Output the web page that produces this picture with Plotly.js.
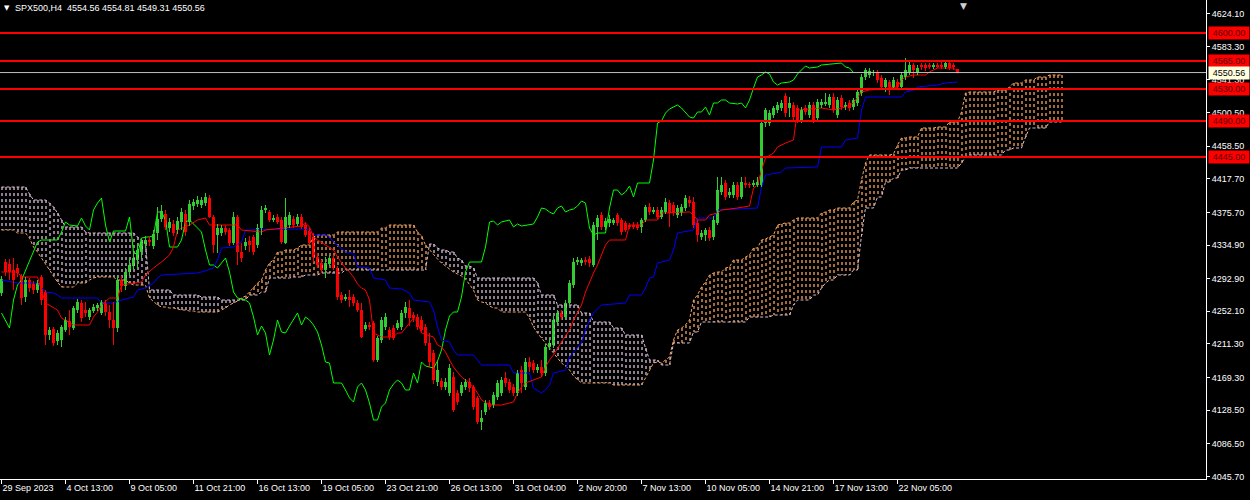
<!DOCTYPE html>
<html><head><meta charset="utf-8">
<script src="https://cdn.plot.ly/plotly-3.0.1.min.js"></script>
<style>html,body{margin:0;padding:0;background:#000;}#chart{width:1250px;height:500px;}</style>
</head><body><div id="chart"></div>
<script>
// ---- SPX500, H4 candles (bar index 0 = 29 Sep 2023) ----
const open = [4275,4313.75,4311.25,4303.75,4306.25,4296.25,4270,4291.25,4286.25,4278.75,
4295,4276.25,4222.5,4230,4215,4216.25,4228.75,4240,4231.25,4253.75,
4262.5,4253.75,4245,4252.5,4256.25,4250,4262.5,4251.25,4241.25,4231.25,
4291.25,4283.75,4301.25,4308.75,4316.25,4326.25,4336.25,4341.25,4333.75,4350,
4367.5,4373.75,4356.25,4361.25,4353.75,4363.75,4373.75,4363.75,4383.75,4386.25,
4385,4387.5,4393.75,4370,4347.5,4350,4356.25,4353.75,4337.5,4370,
4326.25,4333.75,4340,4345,4335,4356.25,4378.75,4376.25,4366.25,4370,
4366.25,4337.5,4360,4367.5,4361.25,4370,4360,4352.5,4345,4320,
4312.5,4303.75,4311.25,4318.75,4306.25,4272.5,4267.5,4270,4270,4262.5,
4253.75,4230,4235,4237.5,4191.25,4216.25,4232.5,4228.75,4231.25,4231.25,
4232.5,4250,4256.25,4247.5,4245,4241.25,4232.5,4212.5,4200,4163.75,
4165,4157.5,4150,4170,4150,4150,4157.5,4163.75,4157.5,4143.75,
4113.75,4126.25,4137.5,4135,4145,4150,4168.75,4163.75,4157.5,4150,
4178.75,4157.5,4188.75,4187.5,4178.75,4182.5,4175,4207.5,4210,4238.75,
4250,4245,4262.5,4285,4313.75,4312.5,4316.25,4317.5,4310,4357.5,
4372.5,4357.5,4362.5,4362.5,4372.5,4366.25,4362.5,4360,4360,4360,
4357.5,4366.25,4382.5,4376.25,4378.75,4370,4376.25,4387.5,4385,4372.5,
4375,4381.25,4391.25,4388.75,4362.5,4345,4347.5,4353.75,4345,4362.5,
4401.25,4412.5,4397.5,4397.5,4410,4395,4412.5,4411.25,4410,4410,
4410,4487.5,4487.5,4497.5,4503.75,4506.25,4521.25,4506.25,4510,4506.25,
4491.25,4506.25,4497.5,4510,4493.75,4510,4511.25,4510,4520,4497.5,
4518.75,4507.5,4512.5,4507.5,4512.5,4525,4545,4547.5,4549.4,4550,
4543.75,4532.5,4538.75,4532.5,4538.75,4532.5,4545,4551.25,4560,4551.25,
4560,4560,4560,4557.5,4560,4560,4557.5,4562.5,4560,4554.56];

const high = [4296.25,4317.5,4317.5,4318.75,4311.25,4298.75,4295,4293.75,4290,4291.25,
4297.5,4278.75,4232.5,4232.5,4228.75,4235,4245,4253.75,4258.75,4267.5,
4266.25,4263.75,4256.25,4261.25,4262.5,4266.25,4266.25,4260,4263.75,4296.25,
4296.25,4306.25,4318.75,4326.25,4336.25,4343.75,4346.25,4346.25,4353.75,4382.5,
4385,4378.75,4368.75,4366.25,4370,4381.25,4378.75,4391.25,4392.5,4396.25,
4395,4400,4397.5,4372.5,4361.25,4360,4360,4356.25,4376.25,4372.5,
4337.5,4343.75,4346.25,4347.5,4361.25,4383.75,4385,4378.75,4372.5,4373.75,
4370,4393.75,4376.25,4371.25,4373.75,4373.75,4363.75,4356.25,4350,4325,
4316.25,4320,4322.5,4322.5,4308.75,4276.25,4273.75,4278.75,4273.75,4266.25,
4262.5,4238.75,4238.75,4240,4221.25,4245,4250,4232.5,4235,4241.25,
4253.75,4263.75,4266.25,4251.25,4248.75,4246.25,4236.25,4225,4203.75,4191.25,
4168.75,4168.75,4186.25,4176.25,4153.75,4163.75,4167.5,4168.75,4160,4146.25,
4128.75,4141.25,4141.25,4151.25,4166.25,4170,4176.25,4167.5,4161.25,4178.75,
4183.75,4193.75,4195,4191.25,4186.25,4191.25,4211.25,4218.75,4246.25,4253.75,
4253.75,4266.25,4291.25,4318.75,4320,4318.75,4320,4321.25,4363.75,4372.5,
4376.25,4368.75,4372.5,4368.75,4375,4368.75,4365,4362.5,4363.75,4363.75,
4368.75,4385,4387.5,4382.5,4382.5,4382.5,4393.75,4391.25,4388.75,4385,
4386.25,4397.5,4396.25,4395,4366.25,4353.75,4356.25,4357.5,4371.25,4420,
4420,4416.25,4406.25,4413.75,4413.75,4420,4420,4413.75,4416.25,4420,
4491.25,4506.25,4503.75,4508.75,4513.75,4516.25,4525,4520,4513.75,4510,
4507.5,4510,4513.75,4513.75,4517.5,4517.5,4525,4523.75,4525,4520,
4522.5,4513.75,4516.25,4518.75,4530,4548.75,4556.25,4556.25,4553.75,4553.75,
4547.5,4543.75,4541.25,4545,4542.5,4551.25,4568.75,4563.75,4562.5,4560,
4562.5,4562.5,4562.5,4562.5,4562.5,4563.75,4565,4563.75,4562.5,4554.81];

const low = [4271.25,4296.25,4291.25,4278.75,4295,4260,4263.75,4276.25,4273.75,4275,
4260,4210,4216.25,4208.75,4210,4207.5,4226.25,4222.5,4228.75,4250,
4238.75,4245,4241.25,4250,4252.5,4247.5,4246.25,4231.25,4210,4226.25,
4276.25,4278.75,4296.25,4303.75,4306.25,4318.75,4331.25,4333.75,4330,4341.25,
4363.75,4353.75,4351.25,4346.25,4348.75,4353.75,4346.25,4358.75,4378.75,4382.5,
4381.25,4383.75,4368.75,4325,4325,4346.25,4347.5,4333.75,4335,4310,
4313.75,4328.75,4326.25,4322.5,4331.25,4347.5,4375,4363.75,4363.75,4361.25,
4336.25,4336.25,4356.25,4356.25,4358.75,4355,4345,4335,4313.75,4306.25,
4300,4293.75,4308.75,4303.75,4266.25,4262.5,4265,4257.5,4258.75,4251.25,
4218.75,4227.5,4228.75,4188.75,4188.75,4212.5,4228.75,4216.25,4216.25,4228.75,
4228.75,4243.75,4233.75,4238.75,4228.75,4225,4208.75,4181.25,4161.25,4158.75,
4153.75,4153.75,4146.25,4126.25,4135,4146.25,4153.75,4151.25,4128.75,4111.25,
4103.75,4122.5,4128.75,4131.25,4141.25,4146.25,4157.5,4150,4146.25,4146.25,
4150,4153.75,4176.25,4175,4175,4170,4171.25,4203.75,4206.25,4235,
4241.25,4241.25,4258.75,4281.25,4310,4308.75,4310,4307.5,4307.5,4341.25,
4353.75,4353.75,4357.5,4360,4358.75,4347.5,4351.25,4355,4355,4353.75,
4350,4363.75,4372.5,4373.75,4367.5,4367.5,4373.75,4357.5,4371.25,4368.75,
4371.25,4377.5,4382.5,4356.25,4338.75,4341.25,4340,4340,4341.25,4360,
4397.5,4391.25,4393.75,4393.75,4391.25,4392.5,4406.25,4406.25,4407.5,4407.5,
4407.5,4482.5,4483.75,4493.75,4500,4502.5,4495,4495,4491.25,4487.5,
4487.5,4497.5,4493.75,4487.5,4490,4506.25,4508.75,4506.25,4500,4493.75,
4503.75,4503.75,4502.5,4503.75,4508.75,4521.25,4541.25,4543.75,4546.25,4537.5,
4528.75,4526.25,4522.5,4528.75,4528.75,4528.75,4541.25,4547.5,4543.75,4547.5,
4553.75,4552.5,4555,4555,4556.25,4555,4555,4553.75,4553.75,4549.31];

const close = [4292.5,4301.25,4301.25,4291.25,4300,4268.75,4291.25,4281.25,4278.75,4287.5,
4266.25,4222.5,4228.75,4212.5,4225,4232.5,4241.25,4232.5,4256.25,4263.75,
4243.75,4250,4253.75,4257.5,4260,4263.75,4251.25,4241.25,4231.25,4291.25,
4283.75,4301.25,4310,4318.75,4328.75,4338.75,4341.25,4338.75,4348.75,4367.5,
4377.5,4357.5,4363.75,4350,4365,4376.25,4351.25,4386.25,4388.75,4391.25,
4391.25,4395,4370,4335,4356.25,4356.25,4351.25,4337.5,4370,4326.25,
4318.75,4338.75,4335,4326.25,4356.25,4378.75,4381.25,4366.25,4368.75,4363.75,
4338.75,4370,4372.5,4360,4370,4357.5,4347.5,4337.5,4320,4310,
4303.75,4312.5,4318.75,4306.25,4270,4266.25,4270,4266.25,4262.5,4253.75,
4220,4235,4232.5,4191.25,4218.75,4241.25,4245,4220,4218.75,4237.5,
4250,4257.5,4243.75,4243.75,4232.5,4228.75,4212.5,4188.75,4166.25,4178.75,
4157.5,4163.75,4181.25,4128.75,4138.75,4160,4163.75,4156.25,4132.5,4113.75,
4118.75,4137.5,4132.5,4147.5,4162.5,4166.25,4162.5,4153.75,4150,4175,
4162.5,4188.75,4182.5,4178.75,4182.5,4175,4207.5,4212.5,4241.25,4250,
4245,4262.5,4287.5,4313.75,4316.25,4316.25,4313.75,4312.5,4360,4368.75,
4357.5,4365,4367.5,4366.25,4362.5,4351.25,4353.75,4357.5,4357.5,4356.25,
4366.25,4382.5,4376.25,4378.75,4370,4378.75,4388.75,4375,4375,4381.25,
4382.5,4393.75,4387.5,4360,4347.5,4350,4353.75,4343.75,4366.25,4403.75,
4410,4395,4401.25,4410,4395,4413.75,4409.4,4409.4,4412.5,4413.75,
4487.5,4503.75,4500,4506.25,4510,4512.5,4500,4512.5,4495,4491.25,
4503.75,4501.25,4510,4491.25,4513.75,4513.75,4513.75,4520,4503.75,4516.25,
4507.5,4510,4506.25,4516.25,4526.25,4545,4553.75,4552.5,4551.25,4541.25,
4532.5,4541.25,4532.5,4541.25,4532.5,4547.5,4553.75,4560,4553.75,4556.25,
4556.9,4556.25,4558.1,4560,4558.1,4558.1,4562.5,4556.25,4557.5,4550.56];

// ---- Ichimoku cloud: Senkou Span A / B per bar (drawn 26 bars ahead) ----
const senkouA = [4353.75,4353.75,4353.75,4353.75,4350,4350,4350,4343.75,4332.5,4326.25,
4318.75,4311.25,4303.75,4295,4288.75,4282.5,4282.5,4282.5,4282.5,4287.5,
4287.5,4287.5,4291.25,4293.75,4295,4295,4295,4295,4295,4291.25,
4291.25,4291.25,4287.5,4285,4285,4285,4285,4268.75,4263.75,4260,
4257.5,4257.5,4256.25,4256.25,4255,4253.75,4253.75,4252.5,4252.5,4251.25,
4251.25,4251.25,4251.25,4251.25,4251.25,4253.75,4256.25,4260,4262.5,4265,
4268.75,4271.25,4276.25,4282.5,4287.5,4291.25,4303.75,4312.5,4316.25,4326.25,
4326.25,4328.75,4328.75,4328.75,4331.25,4335,4335,4335,4345,4347.5,
4347.5,4347.5,4347.5,4347.5,4351.25,4351.25,4351.25,4351.25,4351.25,4351.25,
4351.25,4351.25,4351.25,4351.25,4351.25,4356.25,4356.25,4360,4360,4360,
4360,4360,4360,4360,4351.25,4346.25,4335,4328.75,4322.5,4317.5,
4312.5,4308.75,4305,4301.25,4298.75,4296.25,4292.5,4286.25,4278.75,4266.25,
4263.75,4262.5,4258.75,4256.25,4256.25,4251.25,4251.25,4251.25,4251.25,4251.25,
4251.25,4251.25,4243.75,4232.5,4225,4218.75,4212.5,4206.25,4200,4193.75,
4187.5,4183.75,4178.75,4171.25,4166.25,4162.5,4162.5,4162.5,4162.5,4162.5,
4162.5,4162.5,4162.5,4160,4160,4160,4160,4160,4160,4160,
4160,4168.75,4178.75,4187.5,4188.75,4187.5,4191.25,4195,4216.25,4228.75,
4231.25,4235,4241.25,4266.25,4272.5,4282.5,4288.75,4297.5,4300,4301.25,
4301.25,4306.25,4307.5,4316.25,4316.25,4316.25,4320,4322.5,4331.25,4331.25,
4341.25,4342.5,4345,4347.5,4360,4361.25,4362.5,4362.5,4366.25,4368.75,
4368.75,4368.75,4368.75,4368.75,4368.75,4375,4376.25,4378.75,4378.75,4381.25,
4381.25,4381.25,4381.25,4388.75,4391.25,4416.25,4437.5,4447.5,4447.5,4447.5,
4447.5,4447.5,4447.5,4448.75,4460,4468.75,4468.75,4470,4470,4470,
4481.25,4481.25,4481.25,4481.25,4482.5,4482.5,4482.5,4488.75,4488.75,4488.75,
4501.25,4525,4526.25,4526.25,4526.25,4526.25,4526.25,4526.25,4526.25,4528.75,
4528.75,4528.75,4532.5,4537.5,4537.5,4537.5,4541.25,4541.25,4541.25,4545,
4545,4545,4547.5,4547.5,4547.5,4547.5];

const senkouB = [4407.5,4407.5,4407.5,4407.5,4407.5,4407.5,4407.5,4398.75,4391.25,4391.25,
4391.25,4391.25,4387.5,4382.5,4375,4366.25,4357.5,4357.5,4357.5,4357.5,
4357.5,4351.25,4350,4350,4350,4350,4350,4350,4350,4350,
4350,4350,4350,4350,4345,4341.25,4337.5,4278.75,4278.75,4278.75,
4278.75,4278.75,4278.75,4272.5,4272.5,4272.5,4272.5,4272.5,4272.5,4272.5,
4270,4270,4270,4270,4270,4266.25,4266.25,4266.25,4266.25,4266.25,
4266.25,4266.25,4272.5,4272.5,4272.5,4276.25,4276.25,4293.75,4293.75,4293.75,
4293.75,4293.75,4293.75,4295,4295,4295,4297.5,4297.5,4297.5,4297.5,
4300,4300,4300,4300,4300,4300,4303.75,4303.75,4303.75,4303.75,
4303.75,4303.75,4303.75,4303.75,4303.75,4303.75,4303.75,4303.75,4303.75,4303.75,
4303.75,4303.75,4303.75,4303.75,4303.75,4303.75,4303.75,4336.25,4336.25,4331.25,
4328.75,4328.75,4326.25,4326.25,4318.75,4316.25,4308.75,4308.75,4306.25,4293.75,
4293.75,4293.75,4293.75,4293.75,4293.75,4293.75,4293.75,4293.75,4293.75,4293.75,
4293.75,4293.75,4293.75,4293.75,4287.5,4272.5,4272.5,4272.5,4272.5,4260,
4260,4260,4260,4260,4260,4250,4250,4250,4238.75,4238.75,
4238.75,4238.75,4238.75,4231.25,4231.25,4231.25,4222.5,4222.5,4222.5,4222.5,
4222.5,4206.25,4191.25,4191.25,4191.25,4185,4185,4185,4212.5,4212.5,
4212.5,4212.5,4212.5,4226.25,4226.25,4238.75,4238.75,4238.75,4238.75,4238.75,
4238.75,4238.75,4238.75,4238.75,4238.75,4238.75,4238.75,4245,4245,4245,
4245,4245,4245,4247.5,4247.5,4247.5,4247.5,4247.5,4260,4266.25,
4266.25,4266.25,4266.25,4272.5,4272.5,4281.25,4287.5,4291.25,4291.25,4297.5,
4297.5,4297.5,4297.5,4303.75,4303.75,4347.5,4381.25,4381.25,4381.25,4395,
4395,4413.75,4413.75,4418.75,4418.75,4428.75,4428.75,4431.25,4431.25,4431.25,
4431.25,4431.25,4431.25,4431.25,4431.25,4431.25,4431.25,4431.25,4431.25,4431.25,
4437.5,4445,4447.5,4447.5,4447.5,4447.5,4447.5,4447.5,4447.5,4447.5,
4447.5,4453.75,4453.75,4456.25,4456.25,4456.25,4470,4481.25,4481.25,4481.25,
4481.25,4481.25,4488.75,4488.75,4488.75,4488.75];

// ---- Tenkan / Kijun / Chikou lines: [bar index, price] ----
const tenkan = [[0,4301.25],[4,4301.25],[5,4295],[9,4295],[10,4278.75],[11,4262.5],[14,4253.75],[15,4243.75],[18,4235],[22,4235],[23,4245],[24,4251.25],[25,4260],[27,4268.75],[29,4268.75],[30,4285],[35,4288.75],[36,4297.5],[38,4306.25],[40,4313.75],[42,4322.5],[43,4332.5],[44,4353.75],[47,4360],[49,4366.25],[51,4368.75],[52,4360],[59,4360],[60,4353.75],[65,4351.25],[66,4353.75],[70,4356.25],[75,4358.75],[76,4362.5],[77,4357.5],[78,4345],[79,4341.25],[81,4335],[83,4328.75],[84,4320],[86,4306.25],[87,4301.25],[88,4295],[89,4286.25],[90,4281.25],[91,4278.75],[92,4266.25],[93,4225],[95,4220],[98,4220],[99,4225],[100,4225],[103,4243.75],[104,4238.75],[105,4225],[108,4220],[109,4210],[110,4207.5],[111,4201.25],[112,4191.25],[113,4182.5],[114,4176.25],[115,4170],[116,4166.25],[118,4157.5],[119,4150],[120,4141.25],[122,4135],[125,4135],[128,4138.75],[129,4150],[130,4157.5],[131,4162.5],[133,4166.25],[135,4170],[136,4182.5],[137,4191.25],[138,4197.5],[139,4206.25],[140,4213.75],[142,4228.75],[143,4241.25],[145,4260],[146,4276.25],[148,4300],[149,4310],[150,4322.5],[151,4335],[152,4341.25],[156,4341.25],[157,4360],[160,4360],[161,4366.25],[164,4366.25],[165,4375],[172,4376.25],[173,4372.5],[174,4366.25],[176,4366.25],[177,4372.5],[179,4375],[180,4378.75],[184,4381.25],[187,4383.75],[188,4406.25],[189,4410],[190,4428.75],[191,4443.75],[193,4450],[194,4457.5],[196,4462.5],[198,4466.25],[199,4503.75],[205,4506.25],[208,4503.75],[211,4507.5],[213,4512.5],[214,4520],[215,4526.25],[217,4528.75],[224,4532.5],[225,4541.25],[226,4545],[228,4547.5],[231,4547.5],[232,4551.25],[233,4553.75],[234,4556.25],[238,4556.25],[239,4551.25]];

const kijun = [[0,4291.25],[3,4288.75],[4,4287.5],[9,4287.5],[10,4282.5],[11,4276.25],[13,4275],[14,4272.5],[15,4268.75],[24,4268.75],[25,4262.5],[28,4262.5],[30,4266.25],[33,4270],[34,4278.75],[36,4281.25],[38,4287.5],[39,4293.75],[40,4297.5],[49,4300],[50,4301.25],[53,4306.25],[54,4316.25],[55,4331.25],[58,4332.5],[60,4338.75],[61,4353.75],[75,4355],[77,4353.75],[78,4347.5],[81,4347.5],[82,4345],[83,4338.75],[86,4326.25],[88,4325],[89,4307.5],[92,4306.25],[93,4293.75],[96,4291.25],[97,4281.25],[100,4280],[102,4275],[103,4266.25],[107,4263.75],[108,4253.75],[109,4232.5],[110,4216.25],[112,4213.75],[113,4203.75],[114,4197.5],[118,4197.5],[120,4185],[127,4185],[128,4175],[132,4175],[133,4156.25],[135,4150],[136,4153.75],[137,4160],[138,4175],[141,4178.75],[142,4195],[145,4212.5],[146,4228.75],[147,4241.25],[148,4250],[150,4260],[156,4262.5],[157,4272.5],[160,4272.5],[161,4281.25],[162,4293.75],[163,4295],[164,4312.5],[167,4316.25],[168,4328.75],[169,4350],[173,4353.75],[174,4368.75],[178,4368.75],[179,4378.75],[189,4381.25],[190,4407.5],[191,4422.5],[195,4426.25],[196,4431.25],[204,4432.5],[205,4457.5],[210,4457.5],[211,4466.25],[214,4468.75],[215,4503.75],[216,4520],[225,4520],[226,4526.25],[228,4528.75],[229,4532.5],[234,4535],[236,4537.5],[239,4538.75]];

const chikou = [[0,4250],[1,4241.25],[2,4231.25],[3,4266.25],[4,4285],[5,4291.25],[6,4303.75],[7,4313.75],[8,4326.25],[9,4338.75],[10,4341.25],[14,4341.25],[15,4351.25],[16,4363.75],[17,4360],[19,4358.75],[20,4368.75],[21,4358.75],[22,4353.75],[23,4378.75],[24,4387.5],[25,4393.75],[26,4360],[27,4338.75],[28,4352.5],[31,4352.5],[32,4370],[33,4326.25],[34,4322.5],[35,4343.75],[38,4346.25],[39,4376.25],[40,4376.25],[41,4366.25],[42,4332.5],[44,4332.5],[45,4341.25],[46,4363.75],[47,4366.25],[48,4361.25],[49,4356.25],[50,4351.25],[51,4328.75],[52,4310],[53,4310],[54,4306.25],[55,4312.5],[56,4318.75],[57,4301.25],[58,4276.25],[59,4268.75],[61,4266.25],[62,4262.5],[63,4245],[64,4222.5],[65,4233.75],[66,4225],[67,4197.5],[68,4216.25],[69,4241.25],[70,4226.25],[71,4225],[72,4233.75],[73,4241.25],[74,4250],[75,4235],[76,4245],[77,4241.25],[78,4235],[79,4226.25],[80,4210],[81,4188.75],[82,4187.5],[83,4162.5],[85,4162.5],[86,4153.75],[87,4143.75],[88,4138.75],[89,4157.5],[90,4162.5],[91,4153.75],[92,4137.5],[93,4116.25],[94,4116.25],[95,4132.5],[96,4137.5],[97,4153.75],[98,4161.25],[99,4166.25],[100,4162.5],[101,4153.75],[102,4153.75],[103,4175],[104,4162.5],[105,4188.75],[106,4183.75],[108,4181.25],[109,4190],[110,4203.75],[111,4228.75],[112,4246.25],[113,4251.25],[114,4251.25],[115,4270],[116,4301.25],[117,4313.75],[120,4313.75],[121,4332.5],[122,4363.75],[123,4365],[124,4360],[125,4363.75],[127,4366.25],[128,4357.5],[129,4361.25],[130,4358.75],[133,4361.25],[134,4370],[135,4381.25],[136,4380],[137,4376.25],[138,4373.75],[139,4381.25],[140,4383.75],[141,4376.25],[142,4378.75],[143,4380],[144,4383.75],[145,4390],[146,4387.5],[147,4356.25],[148,4347.5],[149,4350],[151,4350],[152,4381.25],[153,4403.75],[154,4403.75],[155,4397.5],[156,4401.25],[157,4408.75],[158,4395],[159,4412.5],[162,4412.5],[163,4441.25],[164,4487.5],[165,4490],[166,4500],[167,4505],[168,4507.5],[169,4510],[170,4506.25],[171,4500],[172,4495],[173,4493.75],[174,4501.25],[175,4501.25],[176,4507.5],[177,4497.5],[178,4512.5],[179,4512.5],[180,4516.25],[181,4516.25],[182,4512.5],[184,4511.25],[185,4512.5],[186,4506.25],[187,4516.25],[188,4531.25],[189,4545],[190,4547.5],[191,4551.25],[192,4548.75],[193,4538.75],[194,4535],[195,4537.5],[197,4538.75],[198,4541.25],[199,4548.75],[200,4553.75],[201,4558.75],[202,4556.25],[204,4557.5],[205,4560],[209,4561.25],[210,4562.5],[211,4557.5],[212,4556.25],[213,4550.56]];

// ---- horizontal levels, current price, axis ticks ----
const levels = [4600, 4565, 4530, 4490, 4445];
const lastPrice = 4550.56;
const yTickVals = [4624.10,4583.30,4541.30,4500.50,4458.50,4417.70,4375.70,4334.90,4292.90,4252.10,4211.30,4169.30,4128.50,4086.50,4045.70];
const xTickVals = [0,16,32,48,64,80,96,112,128,144,160,176,192,208,224];
const xTickText = ['29 Sep 2023','4 Oct 13:00','9 Oct 05:00','11 Oct 21:00','16 Oct 13:00','19 Oct 05:00','23 Oct 21:00','26 Oct 13:00','31 Oct 04:00','2 Nov 20:00','7 Nov 13:00','10 Nov 05:00','14 Nov 21:00','17 Nov 13:00','22 Nov 05:00'];
const titleText = 'SPX500,H4&nbsp; 4554.56 4554.81 4549.31 4550.56';

// ---- build traces ----
const FONT = 'Liberation Sans, Arial, sans-serif';
const BULL = '#32CD32', BEAR = '#FF0000';
const SANDY = '#F4A460', THISTLE = '#D8BFD8';
const traces = [];

// cloud hatching (one dotted column per bar, straddling two pixel columns)
const HOFF = 0.125;
const oX=[],oY=[],tX=[],tY=[];
senkouA.forEach((a,k)=>{
  const b = senkouB[k];
  if (a >= b) { oX.push(k+HOFF,k+HOFF,null); oY.push(a,b,null); }
  else { tX.push(k+HOFF,k+HOFF,null); tY.push(b,a,null); }
});
traces.push({type:'scatter',mode:'lines',x:tX,y:tY,line:{color:THISTLE,width:1.3,dash:'3px,3px'},hoverinfo:'skip'});
traces.push({type:'scatter',mode:'lines',x:oX,y:oY,line:{color:SANDY,width:1.3,dash:'3px,3px'},hoverinfo:'skip'});
const kk = senkouA.map((_,k)=>k);
traces.push({type:'scatter',mode:'lines',x:kk,y:senkouB,line:{color:THISTLE,width:1,dash:'3px,2px'},hoverinfo:'skip'});
traces.push({type:'scatter',mode:'lines',x:kk,y:senkouA,line:{color:SANDY,width:1,dash:'3px,2px'},hoverinfo:'skip'});

// chikou, kijun, tenkan
traces.push({type:'scatter',mode:'lines',x:chikou.map(p=>p[0]),y:chikou.map(p=>p[1]),line:{color:'#00FF00',width:1}});
traces.push({type:'scatter',mode:'lines',x:kijun.map(p=>p[0]),y:kijun.map(p=>p[1]),line:{color:'#0000FF',width:1}});
traces.push({type:'scatter',mode:'lines',x:tenkan.map(p=>p[0]),y:tenkan.map(p=>p[1]),line:{color:'#FF0000',width:1}});

// candles: wicks + bodies
const idx = close.map((_,i)=>i);
const upIdx = idx.filter(i=>close[i]>=open[i]);
const dnIdx = idx.filter(i=>close[i]<open[i]);
function wicks(ids,color){
  const x=[],y=[];
  ids.forEach(i=>{x.push(i,i,null);y.push(low[i],high[i],null);});
  return {type:'scatter',mode:'lines',x,y,line:{color,width:1},hoverinfo:'skip'};
}
function bodies(ids,color){
  return {type:'bar',x:ids,base:ids.map(i=>Math.min(open[i],close[i])),
    y:ids.map(i=>Math.abs(close[i]-open[i])),width:0.75,
    marker:{color,line:{width:0}},hoverinfo:'skip'};
}
traces.push(wicks(upIdx,BULL), wicks(dnIdx,BEAR), bodies(upIdx,BULL), bodies(dnIdx,BEAR));

// shapes & annotations
const shapes = levels.map(v=>({type:'line',xref:'paper',x0:0,x1:1,yref:'y',y0:v,y1:v,line:{color:'#FF0000',width:2}}));
shapes.push({type:'line',xref:'paper',x0:0,x1:1,yref:'y',y0:lastPrice,y1:lastPrice,line:{color:'#C0C0C0',width:1}});

const annotations = levels.map(v=>({xref:'paper',x:1,xanchor:'left',xshift:2,yref:'y',y:v,yanchor:'middle',
  text:v.toFixed(2),showarrow:false,bgcolor:'#FF0000',font:{family:FONT,size:9,color:'#5a0000'},width:38,height:10,borderpad:1}));
annotations.push({xref:'paper',x:1,xanchor:'left',xshift:2,yref:'y',y:lastPrice,yanchor:'middle',
  text:lastPrice.toFixed(2),showarrow:false,bgcolor:'#FFFFE0',font:{family:FONT,size:9,color:'#000000'},width:38,height:10,borderpad:1});
annotations.push({xref:'paper',x:0,xanchor:'left',xshift:2,yref:'paper',y:1,yanchor:'top',yshift:-2,
  text:'▼',showarrow:false,font:{family:'DejaVu Sans',size:7,color:'#FFFFFF'}});
annotations.push({xref:'paper',x:0,xanchor:'left',xshift:13,yref:'paper',y:1,yanchor:'top',yshift:-1,
  text:titleText,showarrow:false,font:{family:FONT,size:9,color:'#FFFFFF'}});
annotations.push({xref:'x',x:240.4,xanchor:'center',yref:'paper',y:1,yanchor:'top',yshift:1,
  text:'▼',showarrow:false,font:{family:'DejaVu Sans',size:9,color:'#D0D0D0'}});

const layout = {
  width:1250,height:500,
  paper_bgcolor:'#000000',plot_bgcolor:'#000000',
  margin:{l:0,r:44,t:0,b:21,pad:0},
  showlegend:false,
  barmode:'overlay',bargap:0,
  xaxis:{range:[-0.375,301.125],showgrid:false,zeroline:false,showline:true,linecolor:'#FFFFFF',linewidth:1,
    ticks:'outside',ticklen:4,tickcolor:'#FFFFFF',tickwidth:1,tickvals:xTickVals,ticktext:xTickText,tickangle:0,
    ticklabelposition:'outside right',tickfont:{family:FONT,size:9,color:'#FFFFFF'},fixedrange:true},
  yaxis:{side:'right',range:[4042.5,4641.25],showgrid:false,zeroline:false,showline:true,linecolor:'#FFFFFF',linewidth:1,
    ticks:'outside',ticklen:3,tickcolor:'#FFFFFF',tickwidth:1,tickvals:yTickVals,ticktext:yTickVals.map(v=>v.toFixed(2)),
    tickfont:{family:FONT,size:9,color:'#FFFFFF'},fixedrange:true},
  shapes, annotations
};
Plotly.newPlot('chart',traces,layout,{displayModeBar:false,staticPlot:true});
</script>
</body></html>
